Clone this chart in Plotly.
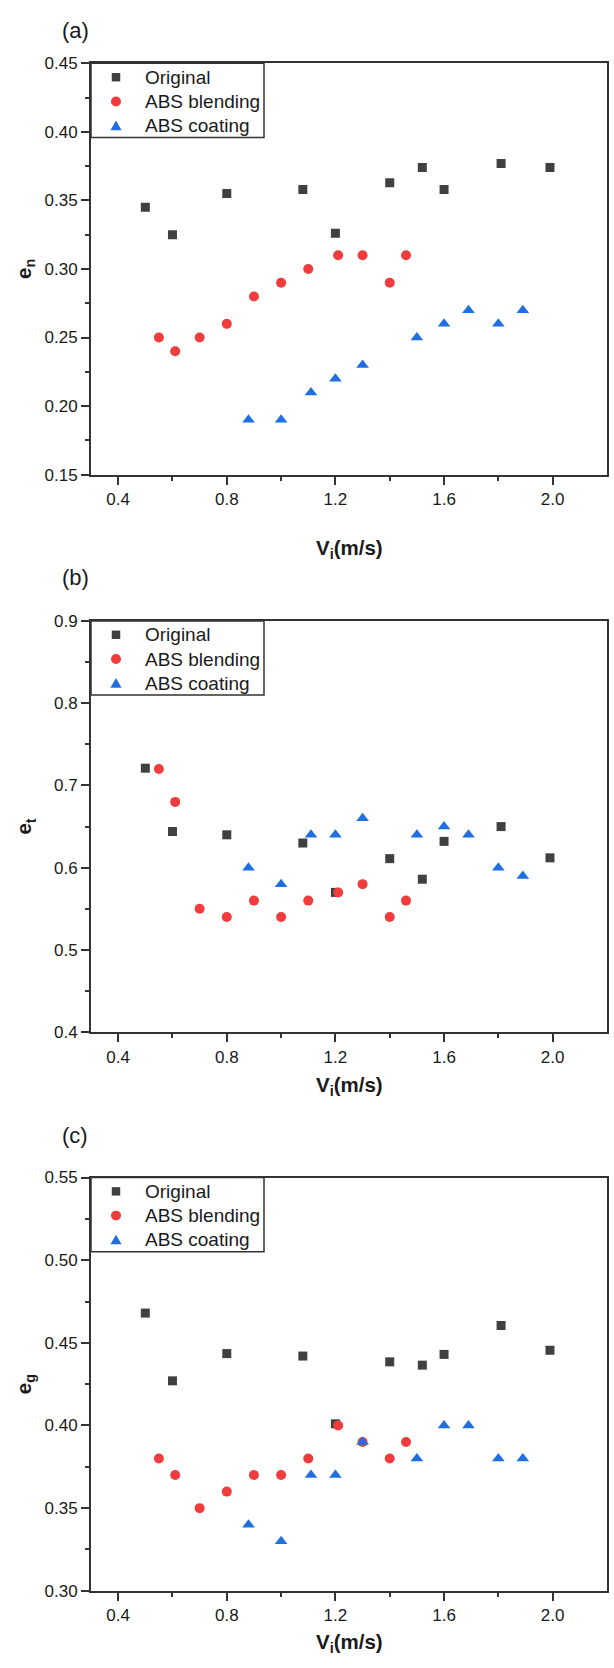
import plotly.graph_objects as go
from plotly.subplots import make_subplots

# ---- data ----
x_original = [0.50, 0.60, 0.80, 1.08, 1.20, 1.40, 1.52, 1.60, 1.81, 1.99]
x_blending = [0.55, 0.61, 0.70, 0.80, 0.90, 1.00, 1.10, 1.21, 1.30, 1.40, 1.46]
x_coating = [0.88, 1.00, 1.11, 1.20, 1.30, 1.50, 1.60, 1.69, 1.80, 1.89]

en_original = [0.345, 0.325, 0.355, 0.358, 0.326, 0.363, 0.374, 0.358, 0.377, 0.374]
en_blending = [0.25, 0.24, 0.25, 0.26, 0.28, 0.29, 0.30, 0.31, 0.31, 0.29, 0.31]
en_coating = [0.19, 0.19, 0.21, 0.22, 0.23, 0.25, 0.26, 0.27, 0.26, 0.27]

et_original = [0.721, 0.644, 0.640, 0.630, 0.570, 0.611, 0.586, 0.632, 0.650, 0.612]
et_blending = [0.72, 0.68, 0.55, 0.54, 0.56, 0.54, 0.56, 0.57, 0.58, 0.54, 0.56]
et_coating = [0.60, 0.58, 0.64, 0.64, 0.66, 0.64, 0.65, 0.64, 0.60, 0.59]

eg_original = [0.468, 0.427, 0.4435, 0.442, 0.401, 0.4385, 0.4365, 0.443, 0.4605, 0.4455]
eg_blending = [0.38, 0.37, 0.35, 0.36, 0.37, 0.37, 0.38, 0.40, 0.39, 0.38, 0.39]
eg_coating = [0.34, 0.33, 0.37, 0.37, 0.39, 0.38, 0.40, 0.40, 0.38, 0.38]

series_names = ["Original", "ABS blending", "ABS coating"]
panel_labels = ["(a)", "(b)", "(c)"]
y_titles = ["<b>e<sub>n</sub></b>", "<b>e<sub>t</sub></b>", "<b>e<sub>g</sub></b>"]
x_title = "<b>V<sub>i</sub>(m/s)</b>"
x_ticks = [0.4, 0.8, 1.2, 1.6, 2.0]

# ---- styles ----
W, H = 614, 1668
FONT = "Arial, 'Liberation Sans', sans-serif"
AX = "#333333"
TXT = "#1a1a1a"
colors = ["#404040", "#f03c3c", "#1f6fe0"]
symbols = ["square", "circle", "triangle-up"]
sizes = [9, 10, 11]

px_left, px_right = 91, 607
panels_px = [(55, 471), (619, 1035), (1182, 1600)]
y_ranges = [[0.15, 0.45], [0.4, 0.9], [0.30, 0.55]]
y_dticks = [0.05, 0.1, 0.05]
y_formats = [".2f", ".1f", ".2f"]


def py(p):
    return 1 - p / H


def pxx(p):
    return p / W


fig = make_subplots(rows=3, cols=1)

data = [
    (en_original, en_blending, en_coating),
    (et_original, et_blending, et_coating),
    (eg_original, eg_blending, eg_coating),
]
xs = [x_original, x_blending, x_coating]

for r in range(3):
    for k in range(3):
        fig.add_trace(
            go.Scatter(
                x=xs[k], y=data[r][k], mode="markers", name=series_names[k],
                marker=dict(symbol=symbols[k], size=sizes[k], color=colors[k],
                            line=dict(width=0)),
                showlegend=False,
            ),
            row=r + 1, col=1,
        )

layout = dict(
    width=W, height=H, margin=dict(l=0, r=0, t=0, b=0),
    paper_bgcolor="white", plot_bgcolor="white",
    font=dict(family=FONT, color=TXT),
    annotations=[], shapes=[], showlegend=False,
)

for r in range(3):
    top, bot = panels_px[r]
    sfx = "" if r == 0 else str(r + 1)
    layout["xaxis" + sfx] = dict(
        domain=[pxx(px_left), pxx(px_right)], range=[0.3, 2.2],
        tickmode="array", tickvals=x_ticks, ticktext=[f"{v:.1f}" for v in x_ticks],
        ticks="outside", ticklen=8, tickwidth=1.5, tickcolor=AX,
        minor=dict(tickmode="array", tickvals=[0.6, 1.0, 1.4, 1.8], ticks="outside",
                   ticklen=4, tickwidth=1.5, tickcolor=AX, showgrid=False),
        showline=True, linecolor=AX, linewidth=2, mirror=True,
        showgrid=False, zeroline=False,
        tickfont=dict(size=17, family=FONT, color=TXT),
        anchor="y" + sfx,
    )
    layout["yaxis" + sfx] = dict(
        domain=[py(bot), py(top)], range=y_ranges[r],
        dtick=y_dticks[r], tick0=y_ranges[r][0], tickformat=y_formats[r],
        ticks="outside", ticklen=8, tickwidth=1.5, tickcolor=AX,
        minor=dict(dtick=y_dticks[r] / 2, ticks="outside", ticklen=4,
                   tickwidth=1.5, tickcolor=AX, showgrid=False),
        showline=True, linecolor=AX, linewidth=2, mirror=True,
        showgrid=False, zeroline=False,
        tickfont=dict(size=17, family=FONT, color=TXT),
        anchor="x" + sfx,
    )

    # ---- legend box (drawn manually for exact spacing) ----
    layout["shapes"].append(dict(
        type="rect", xref="paper", yref="paper",
        x0=pxx(px_left), x1=pxx(264), y0=py(top + 75), y1=py(top),
        line=dict(color=AX, width=1.5), fillcolor="white", layer="above"))
    row_y = [top + 14, top + 38.5, top + 63]
    sx = 116
    # square
    s = 4.25
    layout["shapes"].append(dict(
        type="rect", xref="paper", yref="paper",
        x0=pxx(sx - s), x1=pxx(sx + s), y0=py(row_y[0] + s), y1=py(row_y[0] - s),
        line=dict(width=0), fillcolor=colors[0], layer="above"))
    # circle
    c = 5
    layout["shapes"].append(dict(
        type="circle", xref="paper", yref="paper",
        x0=pxx(sx - c), x1=pxx(sx + c), y0=py(row_y[1] + c), y1=py(row_y[1] - c),
        line=dict(width=0), fillcolor=colors[1], layer="above"))
    # triangle
    yc = row_y[2]
    path = (f"M {pxx(sx - 5.6)} {py(yc + 4.6)} L {pxx(sx + 5.6)} {py(yc + 4.6)} "
            f"L {pxx(sx)} {py(yc - 5.2)} Z")
    layout["shapes"].append(dict(
        type="path", xref="paper", yref="paper", path=path,
        line=dict(width=0), fillcolor=colors[2], layer="above"))
    for k in range(3):
        layout["annotations"].append(dict(
            text=series_names[k], x=pxx(143), y=py(row_y[k]), xref="paper", yref="paper",
            showarrow=False, xanchor="left", yanchor="middle",
            font=dict(size=19, family=FONT, color=TXT)))

label_y = [22, 575, 1139]
xtitle_y = [546, 1089, 1653]
for r in range(3):
    top, bot = panels_px[r]
    layout["annotations"].append(dict(
        text=panel_labels[r], x=pxx(75), y=py(label_y[r]), xref="paper", yref="paper",
        showarrow=False, xanchor="center", yanchor="middle",
        font=dict(size=22, family=FONT, color=TXT)))
    layout["annotations"].append(dict(
        text=x_title, x=pxx((px_left + px_right) / 2), y=py(xtitle_y[r]),
        xref="paper", yref="paper", showarrow=False,
        xanchor="center", yanchor="middle",
        font=dict(size=20.5, family=FONT, color=TXT)))
    layout["annotations"].append(dict(
        text=y_titles[r], x=pxx(25), y=py((top + bot) / 2), xref="paper", yref="paper",
        showarrow=False, xanchor="center", yanchor="middle", textangle=-90,
        font=dict(size=20.5, family=FONT, color=TXT)))

fig.update_layout(**layout)
fig.write_html("out.html")
